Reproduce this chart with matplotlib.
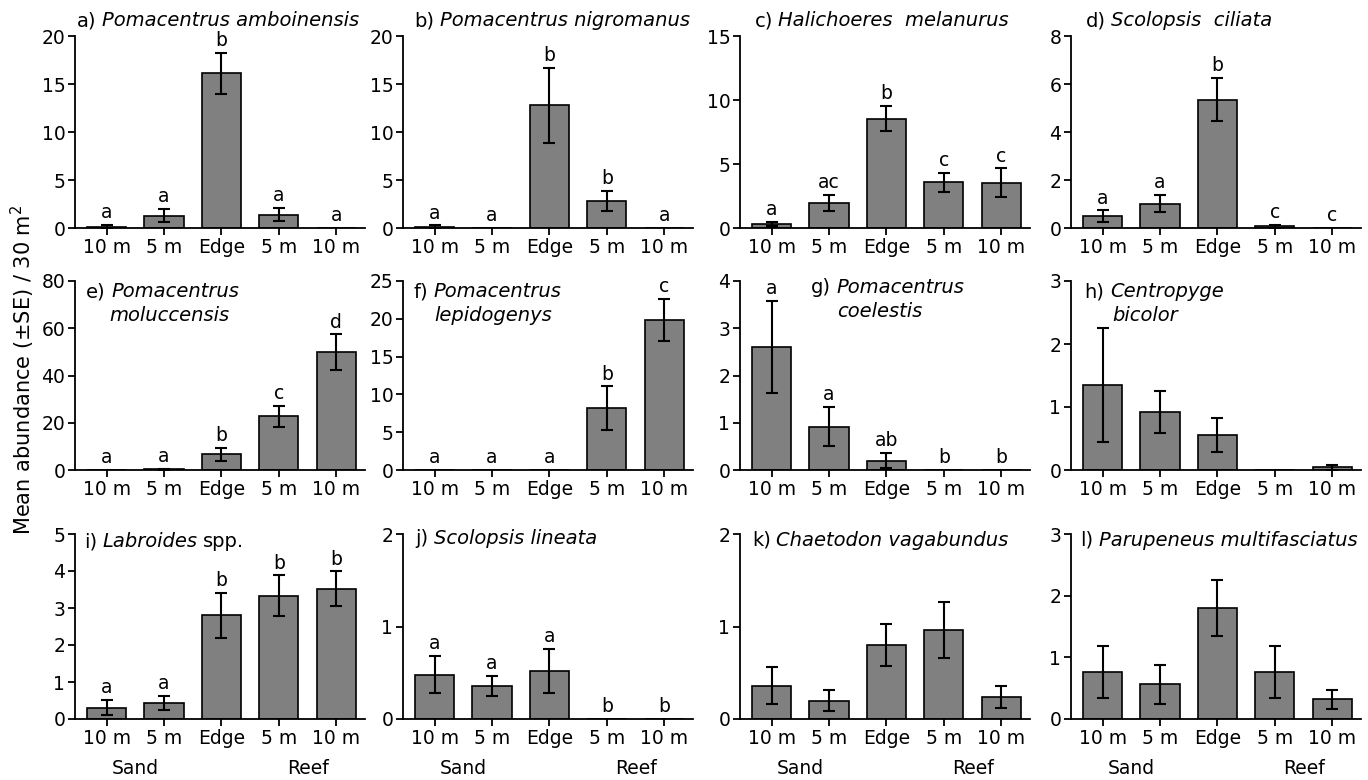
import matplotlib
matplotlib.use("Agg")
import matplotlib.pyplot as plt

# ---------------- data ----------------
sites = ["10 m", "5 m", "Edge", "5 m", "10 m"]
habitats = ["Sand", "Reef"]

tags = ["a)", "b)", "c)", "d)", "e)", "f)", "g)", "h)", "i)", "j)", "k)", "l)"]
species = [
    "Pomacentrus amboinensis", "Pomacentrus nigromanus", "Halichoeres  melanurus",
    "Scolopsis  ciliata", "Pomacentrus moluccensis", "Pomacentrus lepidogenys",
    "Pomacentrus coelestis", "Centropyge bicolor", "Labroides", "Scolopsis lineata",
    "Chaetodon vagabundus", "Parupeneus multifasciatus",
]

mean_a = [0.15, 1.3, 16.1, 1.4, 0.0]
se_a = [0.15, 0.7, 2.15, 0.7, 0.0]
let_a = ["a", "a", "b", "a", "a"]

mean_b = [0.15, 0.0, 12.8, 2.8, 0.05]
se_b = [0.12, 0.0, 3.9, 1.05, 0.0]
let_b = ["a", "a", "b", "b", "a"]

mean_c = [0.3, 1.95, 8.55, 3.58, 3.55]
se_c = [0.15, 0.65, 1.0, 0.75, 1.1]
let_c = ["a", "ac", "b", "c", "c"]

mean_d = [0.5, 1.02, 5.35, 0.07, 0.0]
se_d = [0.23, 0.35, 0.9, 0.07, 0.0]
let_d = ["a", "a", "b", "c", "c"]

mean_e = [0.0, 0.4, 6.7, 22.7, 49.8]
se_e = [0.0, 0.2, 2.8, 4.6, 7.6]
let_e = ["a", "a", "b", "c", "d"]

mean_f = [0.0, 0.0, 0.05, 8.2, 19.8]
se_f = [0.0, 0.0, 0.0, 2.85, 2.8]
let_f = ["a", "a", "a", "b", "c"]

mean_g = [2.6, 0.92, 0.2, 0.0, 0.0]
se_g = [0.98, 0.42, 0.16, 0.0, 0.0]
let_g = ["a", "a", "ab", "b", "b"]

mean_h = [1.35, 0.92, 0.56, 0.0, 0.04]
se_h = [0.9, 0.34, 0.27, 0.0, 0.04]
let_h = ["", "", "", "", ""]

mean_i = [0.31, 0.43, 2.8, 3.33, 3.52]
se_i = [0.2, 0.2, 0.6, 0.55, 0.47]
let_i = ["a", "a", "b", "b", "b"]

mean_j = [0.48, 0.36, 0.52, 0.0, 0.0]
se_j = [0.2, 0.11, 0.24, 0.0, 0.0]
let_j = ["a", "a", "a", "b", "b"]

mean_k = [0.36, 0.2, 0.8, 0.96, 0.24]
se_k = [0.2, 0.115, 0.23, 0.3, 0.12]
let_k = ["", "", "", "", ""]

mean_l = [0.76, 0.56, 1.8, 0.76, 0.32]
se_l = [0.42, 0.31, 0.46, 0.42, 0.15]
let_l = ["", "", "", "", ""]

ymax = [20, 20, 15, 8, 80, 25, 4, 3, 5, 2, 2, 3]
ystep = [5, 5, 5, 2, 20, 5, 1, 1, 1, 1, 1, 1]

means = [mean_a, mean_b, mean_c, mean_d, mean_e, mean_f,
         mean_g, mean_h, mean_i, mean_j, mean_k, mean_l]
ses = [se_a, se_b, se_c, se_d, se_e, se_f, se_g, se_h, se_i, se_j, se_k, se_l]
letters = [let_a, let_b, let_c, let_d, let_e, let_f,
           let_g, let_h, let_i, let_j, let_k, let_l]

# ---------------- layout ----------------
W, H = 1368, 780
FS = 13.5
TFS = 14
fig = plt.figure(figsize=(W / 100, H / 100), dpi=100)
plt.rcParams["font.family"] = ["DejaVu Sans"]

col_left = [75, 403, 740, 1071]
ax_w = 290
rows = [(36, 228), (281, 470), (534, 719)]

# title placement: (x1, y1, x2, y2) in axes fraction; second line for two-line titles
title_pos = [
    (0.007, 1.08, None, None), (0.038, 1.08, None, None),
    (0.05, 1.08, None, None), (0.05, 1.08, None, None),
    (0.038, 0.942, 0.118, 0.82), (0.035, 0.942, 0.108, 0.82),
    (0.246, 0.963, 0.334, 0.836), (0.046, 0.942, 0.144, 0.82),
    (0.031, 0.957, None, None), (0.042, 0.975, None, None),
    (0.041, 0.965, None, None), (0.032, 0.965, None, None),
]


def chain(ax, x, y, parts):
    prev = None
    for txt, style in parts:
        if prev is None:
            prev = ax.text(x, y, txt, transform=ax.transAxes, ha="left",
                           va="center", fontsize=TFS, style=style)
        else:
            prev = ax.annotate(txt, xy=(1, 0), xycoords=prev, xytext=(4, 0),
                               textcoords="offset points", ha="left",
                               va="bottom", fontsize=TFS, style=style)


for k in range(12):
    r, c = divmod(k, 4)
    top, bot = rows[r]
    ax = fig.add_axes([col_left[c] / W, 1 - bot / H, ax_w / W, (bot - top) / H])
    x = list(range(len(sites)))
    m = means[k]
    s = ses[k]
    ax.bar(x, m, width=0.68, color="#808080", edgecolor="black",
           linewidth=1.2, zorder=2)
    ex = [i for i in x if s[i] > 0]
    ax.errorbar(ex, [m[i] for i in ex], yerr=[s[i] for i in ex], fmt="none",
                ecolor="black", elinewidth=1.5, capsize=4.5, capthick=1.5,
                zorder=3)
    for i in x:
        if letters[k][i]:
            ax.annotate(letters[k][i], xy=(i, m[i] + s[i]), xytext=(0, 2),
                        textcoords="offset points", ha="center", va="bottom",
                        fontsize=FS)
    ax.set_xlim(-0.55, 4.5)
    ax.set_ylim(0, ymax[k])
    ax.set_yticks(list(range(0, ymax[k] + 1, ystep[k])))
    ax.set_xticks(x)
    ax.set_xticklabels(sites)
    for sp in ("top", "right"):
        ax.spines[sp].set_visible(False)
    for sp in ("left", "bottom"):
        ax.spines[sp].set_linewidth(1.3)
    ax.tick_params(direction="out", length=5, width=1.3, labelsize=FS, pad=2)

    x1, y1, x2, y2 = title_pos[k]
    words = species[k].split(" ")
    if k == 8:
        chain(ax, x1, y1, [(tags[k], "normal"), (species[k], "italic"),
                           ("spp.", "normal")])
    elif x2 is not None:
        chain(ax, x1, y1, [(tags[k], "normal"), (words[0], "italic")])
        ax.text(x2, y2, " ".join(words[1:]), transform=ax.transAxes,
                ha="left", va="center", fontsize=TFS, style="italic")
    else:
        chain(ax, x1, y1, [(tags[k], "normal"), (species[k], "italic")])

    if r == 2:
        for hx, hname in zip([0.5, 3.5], habitats):
            ax.annotate(hname, xy=(hx, 0), xycoords=("data", "axes fraction"),
                        xytext=(0, -36), textcoords="offset points",
                        ha="center", va="center", fontsize=FS)

fig.text(23 / W, 1 - 370 / H, "Mean abundance (\u00b1SE) / 30 m$^2$",
         rotation=90, ha="center", va="center", fontsize=15)

fig.savefig("out.png", dpi=100)
